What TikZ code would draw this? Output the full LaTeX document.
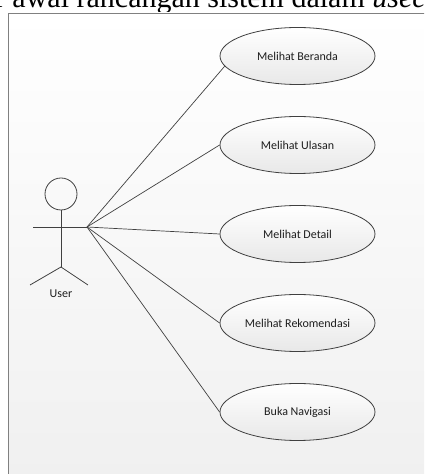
\documentclass[tikz,border=0pt]{standalone}
\usepackage{fontspec}
\setmainfont{Carlito}
\newfontfamily\captionfont{Liberation Serif}
\usepackage{xcolor}
\usetikzlibrary{shapes.geometric}

\definecolor{frameColor}{RGB}{128,128,128}
\definecolor{lineColor}{RGB}{64,64,64}
\definecolor{textColor}{RGB}{30,30,30}
\definecolor{shadeBottom}{RGB}{240,240,240}
\definecolor{ovalBottom}{RGB}{232,232,232}
\tikzset{
  usecase/.style={ellipse,draw=lineColor,line width=0.8pt,top color=white,bottom color=ovalBottom,
    minimum width=155pt,minimum height=57pt,inner sep=0pt,text=textColor,font=\fontsize{12}{14}\selectfont},
  assoc/.style={draw=lineColor,line width=0.7pt},
  stick/.style={draw=lineColor,line width=0.8pt}
}

\begin{document}
\begin{tikzpicture}[x=1pt,y=1pt]
\path[use as bounding box,fill=white] (0,0) rectangle (424,474);
\begin{scope}
\path[clip] (0,0) rectangle (424,474);
% caption line cut off by the page edge
\node[anchor=base west,inner sep=0pt,outer sep=0pt,font=\captionfont\fontsize{30}{35}\selectfont] (caption) at (-5,466) {r awal rancangan sistem dalam \textit{usecase}};
% system frame
\path[draw=frameColor,line width=0.8pt,top color=white,bottom color=shadeBottom] (8,-5) rectangle (432,461);
\end{scope}

% actor
\path[stick] (61,280) circle (16);
\path[stick] (61,264) -- (61,207);
\path[stick] (33,247) -- (87,247);
\path[stick] (30,189) -- (61,207) -- (88,189);
\coordinate (hand) at (87,247);
\node[inner sep=0pt,text=textColor,font=\fontsize{12}{14}\selectfont] (user) at (61,180) {User};

% use cases
\node[usecase] (beranda) at (297.5,418) {Melihat Beranda};
\node[usecase] (ulasan) at (297.5,329) {Melihat Ulasan};
\node[usecase] (detail) at (297.5,240) {Melihat Detail};
\node[usecase] (rekomendasi) at (297.5,151) {Melihat Rekomendasi};
\node[usecase] (navigasi) at (297.5,62) {Buka Navigasi};

\path[assoc] (hand) -- (beranda.188);
\foreach \uc in {ulasan,detail,rekomendasi,navigasi}
  \path[assoc] (hand) -- (\uc.west);
\end{tikzpicture}
\end{document}
